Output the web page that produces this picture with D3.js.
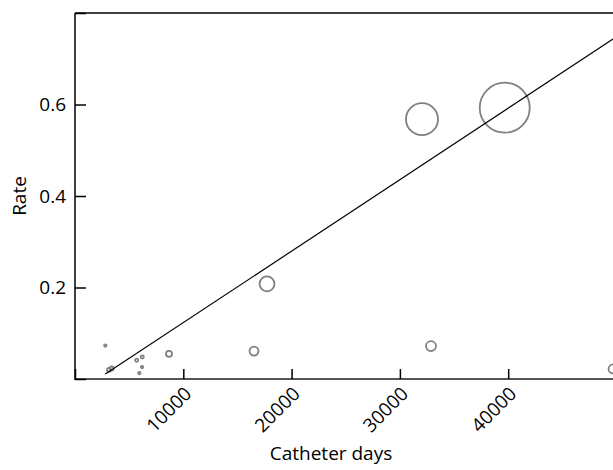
<!DOCTYPE html>
<html>
<head>
  <script type="text/javascript" src="https://cdn.jsdelivr.net/npm/d3@7"></script>
  <style>
    body { margin: 0; background: white; overflow: hidden; }
    text { font-family: "Open Sans", sans-serif; fill: #000; }
    .pt { fill: none; stroke: #808080; stroke-width: 1.8; }
    .fit { fill: none; stroke: #000; stroke-width: 1.2; }
  </style>
</head>
<body>
  <svg id="canvas" width="613" height="470"></svg>
<script>
  // catheter days, infection rate and bubble weight per unit
  const days  = [2800, 3140, 3390, 5700, 6210, 6190, 5940, 8680, 16530, 17730, 32040, 39680, 32870, 49680];
  const rates = [0.073, 0.020, 0.023, 0.041, 0.048, 0.026, 0.013, 0.055, 0.061, 0.208, 0.568, 0.593, 0.072, 0.022];
  const weights = [1.5, 4, 4, 2.5, 2.5, 1.5, 1.5, 9, 20, 56, 256, 625, 25, 20];

  // fitted line: rate = intercept + slope * days
  const fitIntercept = -0.033;
  const fitSlope = 0.000015624;

  const xTicks = [0, 10000, 20000, 30000, 40000, 50000];
  const xTickLabels = ["", "10000", "20000", "30000", "40000", ""];
  const yTicks = [0, 0.2, 0.4, 0.6, 0.8];
  const yTickLabels = ["", "0.2", "0.4", "0.6", ""];

  let svg = d3.select("svg");
  let mLeft = 75, mTop = 13, mBottom = 379, mRight = 616.5;

  let x = d3.scaleLinear().domain([0, 50000]).range([mLeft, mRight]);
  let y = d3.scaleLinear().domain([0, 0.8]).range([mBottom, mTop]);
  let r = d3.scaleSqrt().domain([0, 625]).range([0, 25]);

  // frame
  svg.append("line").attr("x1", mLeft).attr("x2", 613).attr("y1", mTop).attr("y2", mTop)
      .attr("stroke", "#000").attr("stroke-width", 1.5);
  svg.append("line").attr("x1", mLeft).attr("x2", mLeft).attr("y1", mTop).attr("y2", mBottom + 1)
      .attr("stroke", "#000").attr("stroke-width", 1.5);
  svg.append("line").attr("x1", mLeft).attr("x2", 613).attr("y1", mBottom).attr("y2", mBottom)
      .attr("stroke", "#555").attr("stroke-width", 2);

  // x axis, ticks pointing inward
  let xAxis = d3.axisBottom(x).tickValues(xTicks).tickSize(-10)
      .tickFormat((d, i) => xTickLabels[i]);
  let gx = svg.append("g").attr("transform", `translate(0,${mBottom})`).call(xAxis);
  gx.select(".domain").remove();
  gx.selectAll(".tick line").attr("stroke", "#000").attr("stroke-width", 1.5);
  gx.selectAll(".tick text")
      .style("font-size", "19px")
      .attr("text-anchor", "end")
      .attr("dy", null)
      .attr("y", 0)
      .attr("transform", "translate(9,16) rotate(-45)");

  // y axis
  let yAxis = d3.axisLeft(y).tickValues(yTicks).tickSize(-11).tickPadding(9)
      .tickFormat((d, i) => yTickLabels[i]);
  let gy = svg.append("g").attr("transform", `translate(${mLeft},0)`).call(yAxis);
  gy.select(".domain").remove();
  gy.selectAll(".tick line").attr("stroke", "#000").attr("stroke-width", 1.5);
  gy.selectAll(".tick text").style("font-size", "19px");

  // bubbles
  svg.append("g").selectAll("circle")
      .data(days.map((d, i) => ({ d: d, rate: rates[i], w: weights[i] })))
      .join("circle")
      .attr("class", "pt")
      .attr("cx", p => x(p.d))
      .attr("cy", p => y(p.rate))
      .attr("r", p => r(p.w));

  // fitted line over the data range
  let ext = d3.extent(days);
  svg.append("path")
      .attr("class", "fit")
      .datum(ext)
      .attr("d", d3.line().x(d => x(d)).y(d => y(fitIntercept + fitSlope * d)));

  // titles
  svg.append("text").attr("x", 331).attr("y", 460).attr("text-anchor", "middle")
      .style("font-size", "19px").text("Catheter days");
  svg.append("text").attr("transform", "translate(26,196) rotate(-90)").attr("text-anchor", "middle")
      .style("font-size", "19px").text("Rate");
</script>
</body>
</html>
